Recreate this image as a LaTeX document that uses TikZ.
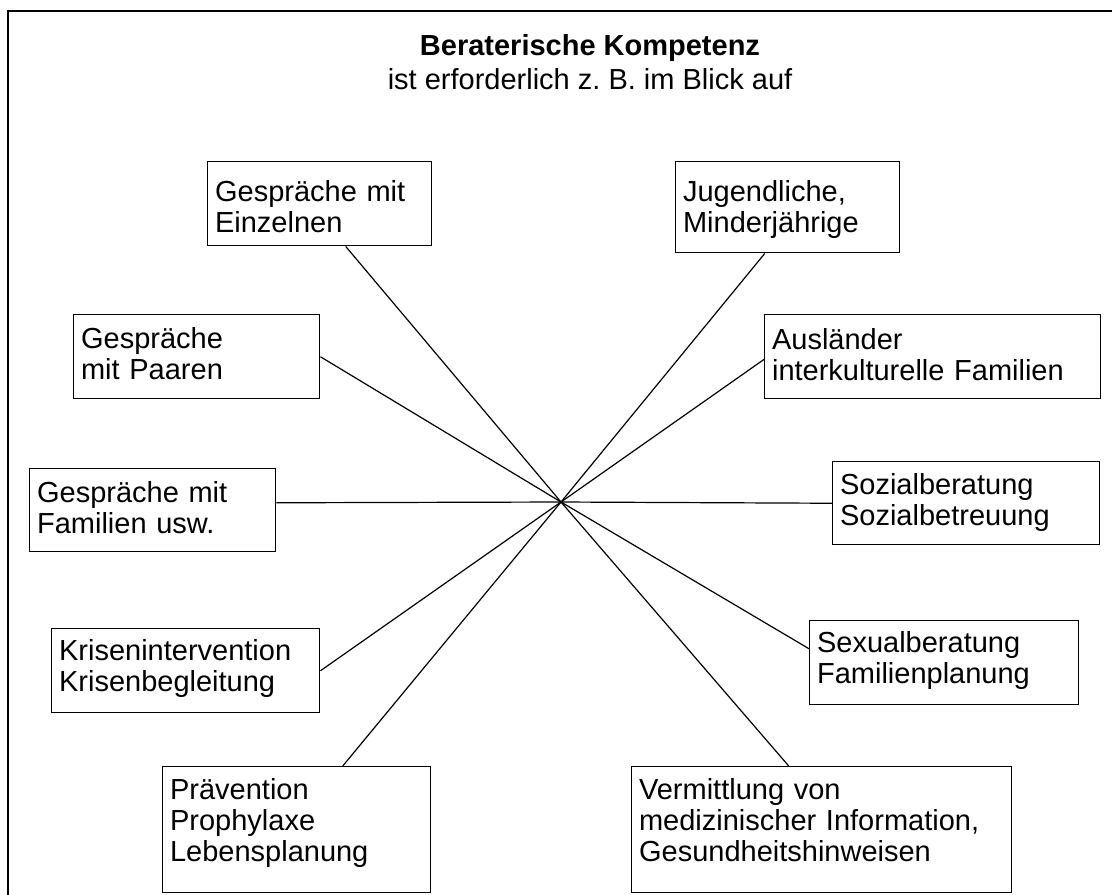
\documentclass[tikz,border=0pt]{standalone}
\usepackage{fontspec}
\setmainfont{Liberation Sans}
\frenchspacing
% box text: height of first line, depth of last line, lines
\newcommand{\bxt}[3]{\rule{0pt}{#1}#3\rule[-#2]{0pt}{#2}}
\begin{document}
\begin{tikzpicture}[x=.75pt, y=-.75pt,
    font=\fontsize{21.75pt}{23.25pt}\selectfont,
    box/.style={draw, line width=1.1pt, anchor=north west, align=left,
      inner xsep=5.5pt, inner ysep=0pt, text width=#1},
    spoke/.style={line width=.9pt}]
  \useasboundingbox (0,0) rectangle (1112,894);
  \draw [line width=1.5pt] (8,11) rectangle (1130,910);
  % heading
  \node [anchor=base] (title) at (590,55) {\bfseries Beraterische Kompetenz};
  \node [anchor=base] (sub) at (590,89) {ist erforderlich z. B. im Blick auf};
  % left side
  \node [box=157pt] (einz) at (207,161) {\bxt{30pt}{9.75pt}{Gespräche mit\\Einzelnen}};
  \node [box=173.5pt] (paare) at (73,314) {\bxt{25.5pt}{14.25pt}{Gespräche\\mit Paaren}};
  \node [box=173.5pt] (famil) at (29,468) {\bxt{25.5pt}{13.5pt}{Gespräche mit\\Familien usw.}};
  \node [box=190pt] (krise) at (51,628) {\bxt{24pt}{15.75pt}{Krisenintervention\\Krisenbegleitung}};
  \node [box=190pt] (praev) at (162,766) {\bxt{24.75pt}{23.25pt}{Prävention\\Prophylaxe\\Lebensplanung}};
  % right side
  \node [box=157pt] (jugend) at (675,161) {\bxt{30pt}{15pt}{Jugendliche,\\Minderjährige}};
  \node [box=241pt] (ausl) at (764,314) {\bxt{26.25pt}{13.5pt}{Ausländer\\interkulturelle Familien}};
  \node [box=189.25pt] (sozial) at (832,461) {\bxt{24.75pt}{14.25pt}{Sozialberatung\\Sozialbetreuung}};
  \node [box=190.75pt] (sexual) at (809,620) {\bxt{24pt}{15.75pt}{Sexualberatung\\Familienplanung}};
  \node [box=274pt] (verm) at (631,766) {\bxt{24.75pt}{23.25pt}{Vermittlung von\\medizinischer Information,\\Gesundheitshinweisen}};
  % spokes
  \coordinate (hub) at (561,502);
  \draw [spoke] (hub) -- ([xshift=19.5pt]einz.south);
  \draw [spoke] (hub) -- (paare.east);
  \draw [spoke] (hub) -- ([yshift=5.6pt]famil.east);
  \draw [spoke] (hub) -- (krise.east);
  \draw [spoke] (hub) -- ([xshift=34.5pt]praev.north);
  \draw [spoke] (hub) -- ([xshift=-17.25pt]jugend.south);
  \draw [spoke] (hub) -- ([yshift=-2pt]ausl.west);
  \draw [spoke] (hub) -- (sozial.west);
  \draw [spoke] (hub) -- ([yshift=10.5pt]sexual.west);
  \draw [spoke] (hub) -- ([xshift=-24.75pt]verm.north);
\end{tikzpicture}
\end{document}
